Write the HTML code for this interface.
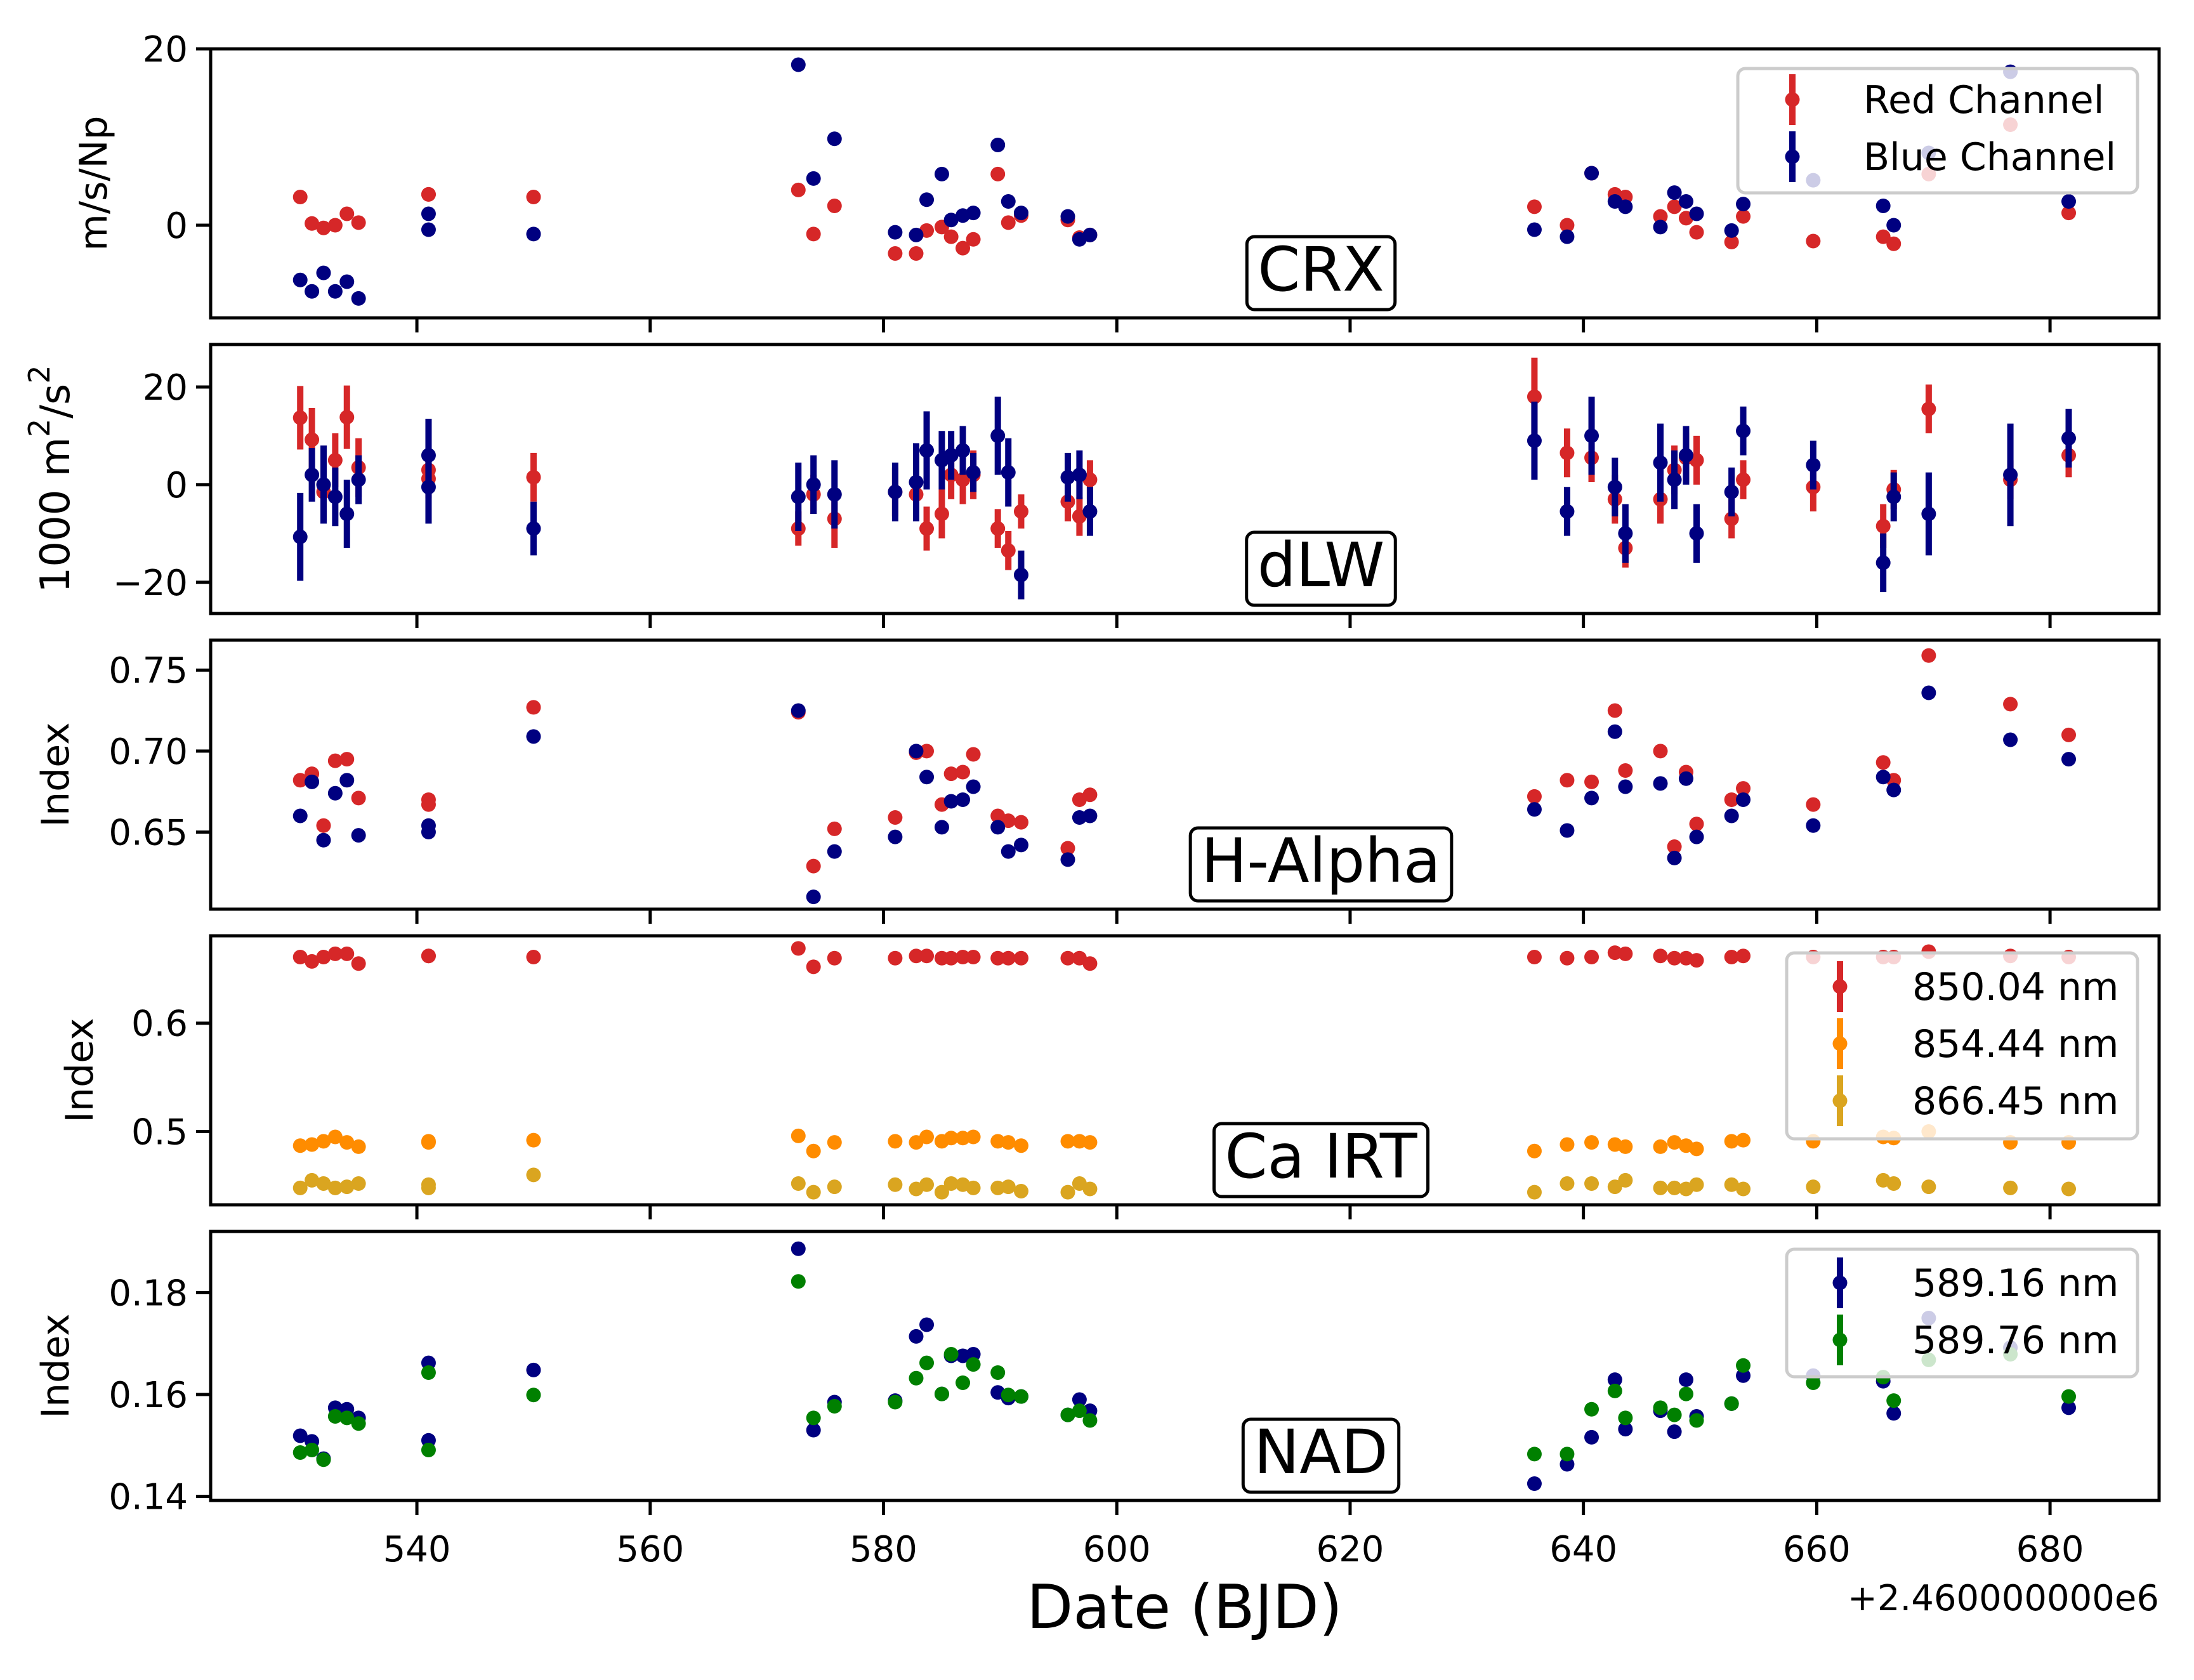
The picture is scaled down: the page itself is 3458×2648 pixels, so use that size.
<!DOCTYPE html>
<html><head><meta charset="utf-8"><style>
html,body{margin:0;padding:0;background:#fff;}
svg{display:block;}
text{font-family:"DejaVu Sans","Liberation Sans",sans-serif;fill:#000;}
</style></head><body>
<svg id="fig" width="3458" height="2648" viewBox="0 0 3458 2648" xmlns="http://www.w3.org/2000/svg"></svg>
<script>
const dates=[530,531,532,533,534,535,541,541,550,572.7,574,575.8,581,582.8,583.7,585,585.8,586.8,587.7,589.8,590.7,591.8,595.8,596.8,597.7,635.8,638.6,640.7,642.7,643.6,646.6,647.8,648.8,649.7,652.7,653.7,659.7,665.7,666.6,669.6,676.6,681.6];
const xTicks=[540,560,580,600,620,640,660,680];
// CRX
const crxRed=[3.2,0.2,-0.3,0,1.3,0.3,3.5,3.5,3.2,4.0,-1,2.2,-3.2,-3.2,-0.6,-0.2,-1.3,-2.6,-1.6,5.8,0.3,1.1,0.6,-1.4,-1.1,2.1,0,5.9,3.5,3.2,1,2.1,0.8,-0.8,-1.9,1,-1.8,-1.3,-2.1,5.8,11.4,1.4];
const crxBlue=[-6.2,-7.5,-5.4,-7.5,-6.4,-8.3,1.3,-0.5,-1,18.2,5.3,9.8,-0.8,-1.1,2.9,5.8,0.6,1.1,1.4,9.1,2.7,1.4,1,-1.6,-1.1,-0.5,-1.3,5.9,2.7,2.1,-0.2,3.7,2.7,1.3,-0.6,2.4,5.1,2.2,0,8.2,17.4,2.7];
// dLW
const dlwRed=[13.7,9.2,-1.5,5,13.8,3.5,3,1.2,1.5,-9,-2,-7,-1.5,-2,-9,-6,2,1,2,-9,-13.5,-5.5,-3.5,-6.5,1,18,6.5,5.5,-3,-13,-3,3,5.5,5,-7,1,-0.5,-8.5,-1,15.5,1,6];
const dlwRedErr=[6.5,6.5,6,5.5,6.5,6,4,4,5,3.5,4,6,5,5,4.5,5,5,5,5,4,4,3.5,4,4,4,8,5,5,5,4,5,5,5,5,4,4,5,4.5,4,5,4,4.5];
const dlwBlue=[-10.7,2,0,-2.5,-6,1,6,-0.5,-9,-2.5,0,-2,-1.5,0.5,7,5,6,7,2.5,10,2.5,-18.5,1.5,2,-5.5,9,-5.5,10,-0.5,-10,4.5,1,6,-10,-1.5,11,4,-16,-2.5,-6,2,9.5];
const dlwBlueErr=[9,5.5,8,6,7,5,7.5,7.5,5.5,7,6,7,6,8,8,6,5,5,4,8,7,5,5,5,5,8,5,8,6,6,8,6,6,6,5,5,5,6,5,8.5,10.5,6];
// H-alpha
const haRed=[0.682,0.686,0.654,0.694,0.695,0.671,0.667,0.670,0.727,0.724,0.629,0.652,0.659,0.699,0.700,0.667,0.686,0.687,0.698,0.660,0.657,0.656,0.640,0.670,0.673,0.672,0.682,0.681,0.725,0.688,0.700,0.641,0.687,0.655,0.670,0.677,0.667,0.693,0.682,0.759,0.729,0.710];
const haBlue=[0.660,0.681,0.645,0.674,0.682,0.648,0.654,0.650,0.709,0.725,0.610,0.638,0.647,0.700,0.684,0.653,0.669,0.670,0.678,0.653,0.638,0.642,0.633,0.659,0.660,0.664,0.651,0.671,0.712,0.678,0.680,0.634,0.683,0.647,0.660,0.670,0.654,0.684,0.676,0.736,0.707,0.695];
// Ca IRT
const ca850=[0.661,0.657,0.661,0.664,0.664,0.655,0.662,0.662,0.661,0.669,0.652,0.660,0.660,0.662,0.662,0.660,0.660,0.661,0.661,0.660,0.660,0.660,0.660,0.660,0.655,0.661,0.660,0.661,0.665,0.664,0.662,0.660,0.660,0.658,0.661,0.662,0.661,0.661,0.661,0.666,0.662,0.661];
const ca854=[0.487,0.488,0.491,0.495,0.490,0.486,0.491,0.490,0.492,0.496,0.482,0.490,0.491,0.490,0.495,0.491,0.494,0.494,0.495,0.491,0.490,0.487,0.491,0.491,0.490,0.482,0.488,0.490,0.488,0.486,0.486,0.490,0.487,0.484,0.491,0.492,0.491,0.495,0.494,0.500,0.490,0.490];
const ca866=[0.448,0.455,0.452,0.448,0.449,0.452,0.451,0.448,0.460,0.452,0.444,0.449,0.451,0.447,0.451,0.444,0.452,0.451,0.448,0.448,0.449,0.445,0.444,0.452,0.447,0.444,0.452,0.452,0.449,0.455,0.448,0.448,0.447,0.451,0.451,0.447,0.449,0.455,0.452,0.449,0.448,0.447];
// NAD
const nad589a=[0.1519,0.1508,0.1474,0.1574,0.1571,0.1554,0.1662,0.151,0.1648,0.1886,0.153,0.1585,0.1588,0.1714,0.1737,0.1601,0.1676,0.1676,0.1679,0.1604,0.1593,0.1596,0.156,0.159,0.1568,0.1425,0.1463,0.1516,0.1629,0.1532,0.1568,0.1527,0.1629,0.1557,0.1582,0.1637,0.1637,0.1626,0.1563,0.175,0.1692,0.1574];
const nad589b=[0.1486,0.1491,0.1472,0.1557,0.1554,0.1543,0.1643,0.1491,0.1599,0.1822,0.1554,0.1577,0.1585,0.1632,0.1662,0.1601,0.1679,0.1623,0.1659,0.1643,0.1599,0.1596,0.156,0.1568,0.1549,0.1483,0.1483,0.1571,0.1607,0.1554,0.1574,0.156,0.1601,0.1549,0.1582,0.1657,0.1623,0.1634,0.1588,0.1668,0.1679,0.1596];

const NS="http://www.w3.org/2000/svg";
const svg=document.getElementById('fig');
function mk(tag,attrs,parent){const e=document.createElementNS(NS,tag);for(const k in attrs)e.setAttribute(k,attrs[k]);(parent||svg).appendChild(e);return e;}
const L=332,R=3403,X0=522.32,X1=689.35;
const xs=d=>L+(d-X0)/(X1-X0)*(R-L);
const RED='#d62728',NAVY='#000080',ORG='#ff8c00',GOLD='#daa520',GRN='#008000';
const panels=[
 {name:'crx',label:'CRX',ylab:'m/s/Np',ylx:148,lo:-10.5,hi:20,ticks:[0,20],fmt:v=>String(v),series:[[crxRed,null,RED],[crxBlue,null,NAVY]]},
 {name:'dlw',label:'dLW',ylab:null,ylx:88,lo:-26.4,hi:28.7,ticks:[-20,0,20],fmt:v=>v<0?'\u2212'+(-v):String(v),series:[[dlwRed,dlwRedErr,RED],[dlwBlue,dlwBlueErr,NAVY]]},
 {name:'h-alpha',label:'H-Alpha',ylab:'Index',ylx:88,lo:0.6024,hi:0.7685,ticks:[0.65,0.70,0.75],fmt:v=>v.toFixed(2),series:[[haRed,null,RED],[haBlue,null,NAVY]]},
 {name:'ca-irt',label:'Ca IRT',ylab:'Index',ylx:126,lo:0.4324,hi:0.6806,ticks:[0.5,0.6],fmt:v=>v.toFixed(1),series:[[ca850,null,RED],[ca854,null,ORG],[ca866,null,GOLD]]},
 {name:'nad',label:'NAD',ylab:'Index',ylx:88,lo:0.1392,hi:0.192,ticks:[0.14,0.16,0.18],fmt:v=>v.toFixed(2),series:[[nad589a,null,NAVY],[nad589b,null,GRN]]}
];
const legends=[
 {p:0,x:2739,y:108,w:630,h:196,mx:2825,tx:2937,rows:[[157,'Red Channel',RED],[247,'Blue Channel',NAVY]]},
 {p:3,x:2816,y:1502,w:553,h:293,mx:2900,tx:3014,rows:[[1555,'850.04 nm',RED],[1645,'854.44 nm',ORG],[1735,'866.45 nm',GOLD]]},
 {p:4,x:2816,y:1969,w:553,h:201,mx:2900,tx:3014,rows:[[2022,'589.16 nm',NAVY],[2112,'589.76 nm',GRN]]}
];
panels.forEach((p,i)=>{
  const top=77+466*i,bot=top+424;
  const g=mk('g',{});
  
  
  const ys=v=>bot-(v-p.lo)/(p.hi-p.lo)*(bot-top);
  const clip=mk('clipPath',{id:'c'+i},g);mk('rect',{x:L,y:top,width:R-L,height:bot-top},clip);
  const data=mk('g',{'clip-path':'url(#c'+i+')'},g);
  p.series.forEach(([vals,errs,col],si)=>{
    const sg=mk('g',{},data);
    
    
    vals.forEach((v,k)=>{
      const cx=xs(dates[k]),cy=ys(v);
      if(errs){const ln=mk('line',{x1:cx,x2:cx,y1:ys(v-errs[k]),y2:ys(v+errs[k]),stroke:col,'stroke-width':10},sg);
        }
      const c=mk('circle',{cx:cx,cy:cy,r:11.5,fill:col},sg);
      
      
    });
  });
  const fr=mk('rect',{x:L,y:top,width:R-L,height:bot-top,fill:'none',stroke:'#000','stroke-width':5},g);
  
  p.ticks.forEach(t=>{const y=ys(t);
    mk('line',{x1:L-23,x2:L,y1:y,y2:y,stroke:'#000','stroke-width':5},g);
    const tx=mk('text',{x:L-36,y:y+20,'text-anchor':'end','font-size':56},g);tx.textContent=p.fmt(t);
    
  });
  xTicks.forEach(t=>{const x=xs(t);
    mk('line',{x1:x,x2:x,y1:bot,y2:bot+23,stroke:'#000','stroke-width':5},g);
    if(i===4){const tx=mk('text',{x:x,y:bot+96,'text-anchor':'middle','font-size':56},g);tx.textContent=t;
      }
  });
  const cy=(top+bot)/2;
  const yl=mk('text',{x:p.ylx,y:cy,'text-anchor':'middle','font-size':60,transform:'rotate(-90 '+p.ylx+' '+cy+')','dominant-baseline':'central'},g);
  if(p.ylab){yl.textContent=p.ylab;}
  else{
    yl.setAttribute('font-size','64');
    mk('tspan',{},yl).textContent='1000 m';
    mk('tspan',{'font-size':46,dy:-26},yl).textContent='2';
    mk('tspan',{dy:26},yl).textContent='/s';
    mk('tspan',{'font-size':46,dy:-26},yl).textContent='2';
  }
  
  const lg=mk('g',{},g);
  
  const lt=mk('text',{x:2082,y:bot-43,'text-anchor':'middle','font-size':96},lg);lt.textContent=p.label;
  const w=lt.getComputedTextLength()+34;
  mk('rect',{x:2082-w/2,y:bot-128,width:w,height:115,rx:12,fill:'#fff',stroke:'#000','stroke-width':5},lg);
  lg.appendChild(lt);
});
legends.forEach(l=>{
  const g=mk('g',{});
  
  
  mk('rect',{x:l.x,y:l.y,width:l.w,height:l.h,rx:12,fill:'rgba(255,255,255,0.8)',stroke:'#cccccc','stroke-width':5},g);
  l.rows.forEach(([y,txt,col])=>{
    const e=mk('g',{},g);
    
    
    mk('line',{x1:l.mx,x2:l.mx,y1:y-40,y2:y+40,stroke:col,'stroke-width':10},e);
    mk('circle',{cx:l.mx,cy:y,r:11.5,fill:col},e);
    const t=mk('text',{x:l.tx,y:y+21,'font-size':60},e);t.textContent=txt;
  });
});
const xl=mk('text',{x:1867,y:2566,'text-anchor':'middle','font-size':95});xl.textContent='Date (BJD)';

const off=mk('text',{x:3403,y:2538,'text-anchor':'end','font-size':56});off.textContent='+2.460000000e6';

</script>
</body></html>
